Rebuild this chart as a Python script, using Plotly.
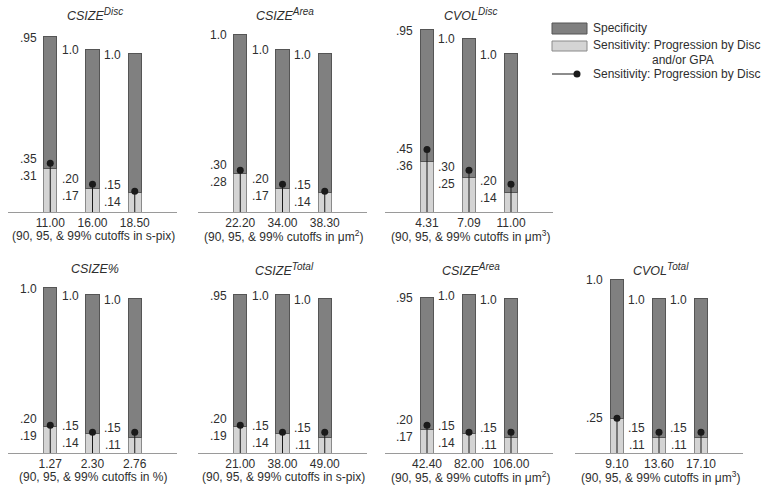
import plotly.graph_objects as go

# ---------------- data ----------------
SUPSTYLE = "<span style='font-size:10px'>"
titles = [f"<i>CSIZE<sup>{SUPSTYLE}Disc</span></sup></i>", f"<i>CSIZE<sup>{SUPSTYLE}Area</span></sup></i>",
          f"<i>CVOL<sup>{SUPSTYLE}Disc</span></sup></i>", "<i>CSIZE%</i>",
          f"<i>CSIZE<sup>{SUPSTYLE}Total</span></sup></i>", f"<i>CSIZE<sup>{SUPSTYLE}Area</span></sup></i>",
          f"<i>CVOL<sup>{SUPSTYLE}Total</span></sup></i>"]
units = ["s-pix", "μm<sup>2</sup>", "μm<sup>3</sup>", "%", "s-pix", "μm<sup>2</sup>", "μm<sup>3</sup>"]

cutoffs_csize_disc = ["11.00", "16.00", "18.50"]
cutoffs_csize_area_top = ["22.20", "34.00", "38.30"]
cutoffs_cvol_disc = ["4.31", "7.09", "11.00"]
cutoffs_csize_pct = ["1.27", "2.30", "2.76"]
cutoffs_csize_total = ["21.00", "38.00", "49.00"]
cutoffs_csize_area_bot = ["42.40", "82.00", "106.00"]
cutoffs_cvol_total = ["9.10", "13.60", "17.10"]

spec_csize_disc = [0.95, 1.0, 1.0]
spec_csize_area_top = [1.0, 1.0, 1.0]
spec_cvol_disc = [0.95, 1.0, 1.0]
spec_csize_pct = [1.0, 1.0, 1.0]
spec_csize_total = [0.95, 1.0, 1.0]
spec_csize_area_bot = [0.95, 1.0, 1.0]
spec_cvol_total = [1.0, 1.0, 1.0]

sens_csize_disc = [0.31, 0.17, 0.14]
sens_csize_area_top = [0.28, 0.17, 0.14]
sens_cvol_disc = [0.36, 0.25, 0.14]
sens_csize_pct = [0.19, 0.14, 0.11]
sens_csize_total = [0.19, 0.14, 0.11]
sens_csize_area_bot = [0.17, 0.14, 0.11]
sens_cvol_total = [0.25, 0.11, 0.11]

disc_csize_disc = [0.35, 0.20, 0.15]
disc_csize_area_top = [0.30, 0.20, 0.15]
disc_cvol_disc = [0.45, 0.30, 0.20]
disc_csize_pct = [0.20, 0.15, 0.15]
disc_csize_total = [0.20, 0.15, 0.15]
disc_csize_area_bot = [0.20, 0.15, 0.15]
disc_cvol_total = [0.25, 0.15, 0.15]

cutoffs = [cutoffs_csize_disc, cutoffs_csize_area_top, cutoffs_cvol_disc, cutoffs_csize_pct,
           cutoffs_csize_total, cutoffs_csize_area_bot, cutoffs_cvol_total]
specs = [spec_csize_disc, spec_csize_area_top, spec_cvol_disc, spec_csize_pct,
         spec_csize_total, spec_csize_area_bot, spec_cvol_total]
senss = [sens_csize_disc, sens_csize_area_top, sens_cvol_disc, sens_csize_pct,
         sens_csize_total, sens_csize_area_bot, sens_cvol_total]
discs = [disc_csize_disc, disc_csize_area_top, disc_cvol_disc, disc_csize_pct,
         disc_csize_total, disc_csize_area_bot, disc_cvol_total]

# ---------------- layout geometry ----------------
W, H = 768, 497
FONT = "Liberation Sans, Arial, sans-serif"
TXT = "#2e2e2e"
DARK = "#808080"
DARK_LINE = "#555555"
LIGHT = "#d4d4d4"
LIGHT_LINE = "#8a8a8a"
AXIS = "#9a9a9a"
BW = 0.31
YMAX = 1.4
PXU = 139.0

# (x0, x1, baseline y, title y) in pixels
geom = [
    (8, 177, 212, 15), (198, 367, 212, 15), (385, 553, 212, 15),
    (8, 177, 453, 269), (198, 367, 453, 269), (385, 553, 453, 269), (575, 743, 453, 269),
]


def px(x):
    return x / W


def py(y):
    return 1 - y / H


def fmt(v):
    return "1.0" if abs(v - 1.0) < 1e-9 else f"{v:.2f}".lstrip("0")


fig = go.Figure()
layout = dict(
    width=W, height=H, margin=dict(l=0, r=0, t=0, b=0),
    paper_bgcolor="white", plot_bgcolor="white",
    barmode="stack", showlegend=False,
    font=dict(family=FONT, size=12, color=TXT),
)
annotations = []
shapes = []

for k in range(7):
    x0, x1, base, ty = geom[k]
    n = k + 1
    xa = "x" if n == 1 else f"x{n}"
    ya = "y" if n == 1 else f"y{n}"
    xs = [0, 1, 2]
    spec, sens, disc = specs[k], senss[k], discs[k]

    fig.add_trace(go.Bar(x=xs, y=sens, width=BW, xaxis=xa, yaxis=ya,
                         marker=dict(color=LIGHT, line=dict(color=LIGHT_LINE, width=1)),
                         name="Sensitivity: Progression by Disc and/or GPA", hoverinfo="skip"))
    fig.add_trace(go.Bar(x=xs, y=spec, width=BW, xaxis=xa, yaxis=ya,
                         marker=dict(color=DARK, line=dict(color=DARK_LINE, width=1)),
                         name="Specificity", hoverinfo="skip"))
    fig.add_trace(go.Scatter(x=xs, y=disc, mode="markers", xaxis=xa, yaxis=ya,
                             marker=dict(color="#1a1a1a", size=7),
                             error_y=dict(type="data", symmetric=False, array=[0, 0, 0],
                                          arrayminus=disc, width=0, thickness=1, color="#1a1a1a"),
                             name="Sensitivity: Progression by Disc", hoverinfo="skip"))

    top_px = base - YMAX * PXU
    layout["xaxis" if n == 1 else f"xaxis{n}"] = dict(
        domain=[px(x0), px(x1)], range=[-1, 3], anchor=ya,
        tickvals=xs, ticktext=cutoffs[k], showline=True, linecolor=AXIS, linewidth=1,
        ticks="", showgrid=False, zeroline=False, fixedrange=True,
        tickfont=dict(family=FONT, size=12, color=TXT))
    layout["yaxis" if n == 1 else f"yaxis{n}"] = dict(
        domain=[py(base), py(top_px)], range=[0, YMAX], anchor=xa,
        visible=False, showgrid=False, zeroline=False, fixedrange=True)

    # title
    annotations.append(dict(text=titles[k], xref="paper", yref="paper",
                            x=px((x0 + x1) / 2 + 2), y=py(ty), xanchor="center", yanchor="middle",
                            showarrow=False, font=dict(family=FONT, size=12.5, color=TXT)))
    # subtitle
    annotations.append(dict(text=f"(90, 95, &amp; 99% cutoffs in {units[k]})", xref="paper", yref="paper",
                            x=px((x0 + x1) / 2 + 1), y=py(base + 24), xanchor="center", yanchor="middle",
                            showarrow=False, font=dict(family=FONT, size=12, color=TXT)))

    for i in xs:
        xl = i - BW / 2
        # specificity label at top of stacked bar
        annotations.append(dict(text=fmt(spec[i]), xref=xa, yref=ya, x=xl, y=spec[i] + sens[i],
                                xanchor="right", yanchor="middle", xshift=-5, yshift=-1,
                                showarrow=False, font=dict(family=FONT, size=12, color=TXT)))
        if abs(disc[i] - sens[i]) < 1e-9:
            annotations.append(dict(text=fmt(sens[i]), xref=xa, yref=ya, x=xl, y=sens[i],
                                    xanchor="right", yanchor="middle", xshift=-5, yshift=0,
                                    showarrow=False, font=dict(family=FONT, size=12, color=TXT)))
        else:
            mid = (disc[i] + sens[i]) / 2
            annotations.append(dict(text=fmt(disc[i]), xref=xa, yref=ya, x=xl, y=mid,
                                    xanchor="right", yanchor="middle", xshift=-5, yshift=7,
                                    showarrow=False, font=dict(family=FONT, size=12, color=TXT)))
            annotations.append(dict(text=fmt(sens[i]), xref=xa, yref=ya, x=xl, y=mid,
                                    xanchor="right", yanchor="middle", xshift=-5, yshift=-10,
                                    showarrow=False, font=dict(family=FONT, size=12, color=TXT)))

# ---------------- custom legend ----------------
shapes.append(dict(type="rect", xref="paper", yref="paper", x0=px(552), x1=px(587), y0=py(34), y1=py(23),
                   fillcolor=DARK, line=dict(color=DARK_LINE, width=1)))
shapes.append(dict(type="rect", xref="paper", yref="paper", x0=px(552), x1=px(587), y0=py(51), y1=py(41),
                   fillcolor=LIGHT, line=dict(color=LIGHT_LINE, width=1)))
shapes.append(dict(type="line", xref="paper", yref="paper", x0=px(552), x1=px(577), y0=py(74), y1=py(74),
                   line=dict(color="#1a1a1a", width=1)))
shapes.append(dict(type="circle", xref="paper", yref="paper", x0=px(573.5), x1=px(580.5), y0=py(77.5), y1=py(70.5),
                   fillcolor="#1a1a1a", line=dict(color="#1a1a1a", width=0)))
for txt, xx, yy in [("Specificity", 591, 28), ("Sensitivity: Progression by Disc", 591, 45),
                    ("and/or GPA", 650, 60), ("Sensitivity: Progression by Disc", 591, 74)]:
    annotations.append(dict(text=txt, xref="paper", yref="paper", x=px(xx), y=py(yy),
                            xanchor="left", yanchor="middle", showarrow=False,
                            font=dict(family=FONT, size=12, color=TXT)))

layout["annotations"] = annotations
layout["shapes"] = shapes
fig.update_layout(**layout)
fig.write_html("out.html", config={"displayModeBar": False},
               post_script="document.body.style.margin='0';document.body.style.overflow='hidden';")
